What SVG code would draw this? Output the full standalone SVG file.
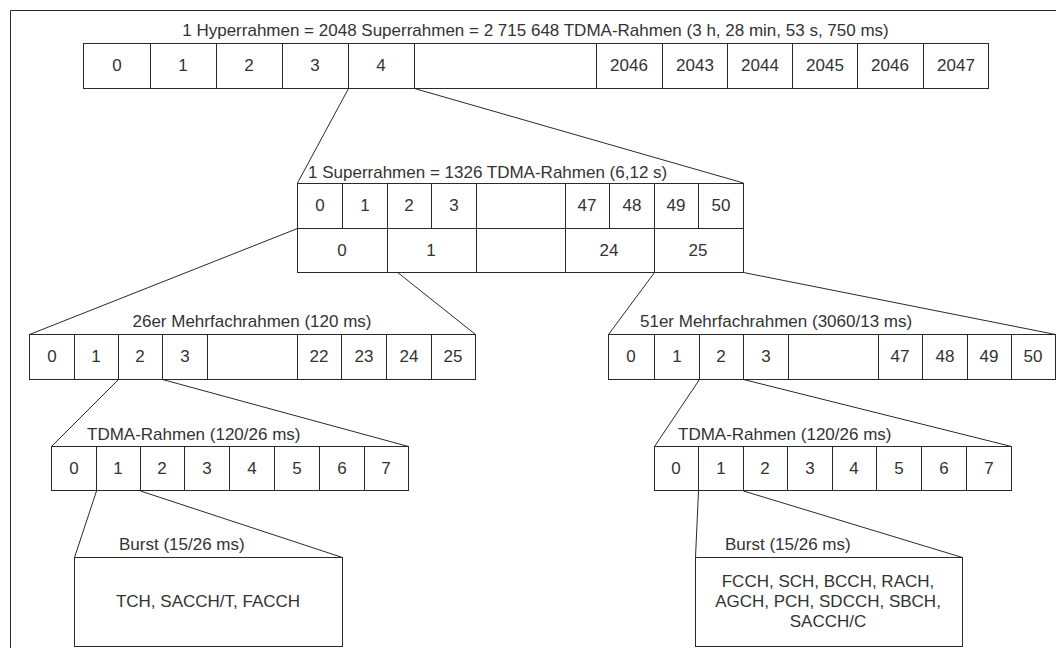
<svg xmlns="http://www.w3.org/2000/svg" width="1056" height="648" viewBox="0 0 1056 648">
<style>
.c{fill:#fff;stroke:#2a2a2a;stroke-width:1}
.l{stroke:#2a2a2a;stroke-width:1;fill:none}
text{font-family:"Liberation Sans",Arial,sans-serif;font-size:17px;fill:#333}
.m{text-anchor:middle}
</style>
<rect width="1056" height="648" fill="#fff"/>
<path class="l" d="M10.5,648 V10.5 H1056"/>
<g id="connectors">
<line class="l" x1="348.5" y1="88.5" x2="297.5" y2="183"/>
<line class="l" x1="414.5" y1="88.5" x2="743.5" y2="183"/>
<line class="l" x1="297.5" y1="228.5" x2="29.5" y2="334.5"/>
<line class="l" x1="342.5" y1="228.5" x2="475.5" y2="334.5"/>
<line class="l" x1="654.5" y1="272.5" x2="608.5" y2="334.5"/>
<line class="l" x1="743.5" y1="272.5" x2="1055.5" y2="334.5"/>
<line class="l" x1="118.5" y1="379.5" x2="51.5" y2="446.5"/>
<line class="l" x1="162.5" y1="379.5" x2="408.5" y2="446.5"/>
<line class="l" x1="699.5" y1="379.5" x2="654.5" y2="446.5"/>
<line class="l" x1="743.5" y1="379.5" x2="1011.5" y2="446.5"/>
<line class="l" x1="96.5" y1="491" x2="74.5" y2="557.5"/>
<line class="l" x1="140.5" y1="491" x2="342.5" y2="557.5"/>
<line class="l" x1="698.5" y1="491" x2="695.5" y2="557.5"/>
<line class="l" x1="743.5" y1="491" x2="962.5" y2="557.5"/>
</g>
<g id="hyperframe">
<text class="m" x="535.5" y="36">1 Hyperrahmen = 2048 Superrahmen = 2 715 648 TDMA-Rahmen (3 h, 28 min, 53 s, 750 ms)</text>
<rect class="c" x="83.5" y="43.5" width="67" height="45"/>
<rect class="c" x="150.5" y="43.5" width="66" height="45"/>
<rect class="c" x="216.5" y="43.5" width="66" height="45"/>
<rect class="c" x="282.5" y="43.5" width="66" height="45"/>
<rect class="c" x="348.5" y="43.5" width="66" height="45"/>
<rect class="c" x="414.5" y="43.5" width="182" height="45"/>
<rect class="c" x="596.5" y="43.5" width="66" height="45"/>
<rect class="c" x="662.5" y="43.5" width="65" height="45"/>
<rect class="c" x="727.5" y="43.5" width="65" height="45"/>
<rect class="c" x="792.5" y="43.5" width="65" height="45"/>
<rect class="c" x="857.5" y="43.5" width="66" height="45"/>
<rect class="c" x="923.5" y="43.5" width="65" height="45"/>
<text class="m" x="117" y="71">0</text>
<text class="m" x="183" y="71">1</text>
<text class="m" x="249" y="71">2</text>
<text class="m" x="315" y="71">3</text>
<text class="m" x="381" y="71">4</text>
<text class="m" x="629" y="71">2046</text>
<text class="m" x="695" y="71">2043</text>
<text class="m" x="760" y="71">2044</text>
<text class="m" x="825" y="71">2045</text>
<text class="m" x="890" y="71">2046</text>
<text class="m" x="956" y="71">2047</text>
</g>
<g id="superframe">
<text x="308" y="178">1 Superrahmen = 1326 TDMA-Rahmen (6,12 s)</text>
<rect class="c" x="297.5" y="183.5" width="45" height="45"/>
<rect class="c" x="342.5" y="183.5" width="45" height="45"/>
<rect class="c" x="387.5" y="183.5" width="44" height="45"/>
<rect class="c" x="431.5" y="183.5" width="45" height="45"/>
<rect class="c" x="476.5" y="183.5" width="89" height="45"/>
<rect class="c" x="565.5" y="183.5" width="44" height="45"/>
<rect class="c" x="609.5" y="183.5" width="45" height="45"/>
<rect class="c" x="654.5" y="183.5" width="44" height="45"/>
<rect class="c" x="698.5" y="183.5" width="45" height="45"/>
<rect class="c" x="297.5" y="228.5" width="90" height="44"/>
<rect class="c" x="387.5" y="228.5" width="89" height="44"/>
<rect class="c" x="476.5" y="228.5" width="89" height="44"/>
<rect class="c" x="565.5" y="228.5" width="89" height="44"/>
<rect class="c" x="654.5" y="228.5" width="89" height="44"/>
<text class="m" x="320" y="211">0</text>
<text class="m" x="365" y="211">1</text>
<text class="m" x="409" y="211">2</text>
<text class="m" x="454" y="211">3</text>
<text class="m" x="587" y="211">47</text>
<text class="m" x="632" y="211">48</text>
<text class="m" x="676" y="211">49</text>
<text class="m" x="721" y="211">50</text>
<text class="m" x="342" y="256">0</text>
<text class="m" x="431" y="256">1</text>
<text class="m" x="609" y="256">24</text>
<text class="m" x="698" y="256">25</text>
</g>
<g id="multiframe26">
<text class="m" x="252" y="327">26er Mehrfachrahmen (120 ms)</text>
<rect class="c" x="29.5" y="334.5" width="45" height="45"/>
<rect class="c" x="74.5" y="334.5" width="44" height="45"/>
<rect class="c" x="118.5" y="334.5" width="44" height="45"/>
<rect class="c" x="162.5" y="334.5" width="45" height="45"/>
<rect class="c" x="207.5" y="334.5" width="90" height="45"/>
<rect class="c" x="297.5" y="334.5" width="44" height="45"/>
<rect class="c" x="341.5" y="334.5" width="45" height="45"/>
<rect class="c" x="386.5" y="334.5" width="45" height="45"/>
<rect class="c" x="431.5" y="334.5" width="44" height="45"/>
<text class="m" x="52" y="362">0</text>
<text class="m" x="96" y="362">1</text>
<text class="m" x="140" y="362">2</text>
<text class="m" x="185" y="362">3</text>
<text class="m" x="319" y="362">22</text>
<text class="m" x="364" y="362">23</text>
<text class="m" x="409" y="362">24</text>
<text class="m" x="453" y="362">25</text>
</g>
<g id="multiframe51">
<text x="640" y="327">51er Mehrfachrahmen (3060/13 ms)</text>
<rect class="c" x="608.5" y="334.5" width="46" height="45"/>
<rect class="c" x="654.5" y="334.5" width="45" height="45"/>
<rect class="c" x="699.5" y="334.5" width="44" height="45"/>
<rect class="c" x="743.5" y="334.5" width="45" height="45"/>
<rect class="c" x="788.5" y="334.5" width="90" height="45"/>
<rect class="c" x="878.5" y="334.5" width="44" height="45"/>
<rect class="c" x="922.5" y="334.5" width="45" height="45"/>
<rect class="c" x="967.5" y="334.5" width="44" height="45"/>
<rect class="c" x="1011.5" y="334.5" width="44" height="45"/>
<text class="m" x="631" y="362">0</text>
<text class="m" x="677" y="362">1</text>
<text class="m" x="721" y="362">2</text>
<text class="m" x="766" y="362">3</text>
<text class="m" x="900" y="362">47</text>
<text class="m" x="945" y="362">48</text>
<text class="m" x="989" y="362">49</text>
<text class="m" x="1033" y="362">50</text>
</g>
<g id="tdma-left">
<text x="87" y="440">TDMA-Rahmen (120/26 ms)</text>
<rect class="c" x="51.5" y="446.5" width="45" height="44"/>
<rect class="c" x="96.5" y="446.5" width="44" height="44"/>
<rect class="c" x="140.5" y="446.5" width="44" height="44"/>
<rect class="c" x="184.5" y="446.5" width="45" height="44"/>
<rect class="c" x="229.5" y="446.5" width="45" height="44"/>
<rect class="c" x="274.5" y="446.5" width="45" height="44"/>
<rect class="c" x="319.5" y="446.5" width="45" height="44"/>
<rect class="c" x="364.5" y="446.5" width="44" height="44"/>
<text class="m" x="74" y="474">0</text>
<text class="m" x="118" y="474">1</text>
<text class="m" x="162" y="474">2</text>
<text class="m" x="207" y="474">3</text>
<text class="m" x="252" y="474">4</text>
<text class="m" x="297" y="474">5</text>
<text class="m" x="342" y="474">6</text>
<text class="m" x="386" y="474">7</text>
</g>
<g id="tdma-right">
<text x="678" y="440">TDMA-Rahmen (120/26 ms)</text>
<rect class="c" x="654.5" y="446.5" width="44" height="44"/>
<rect class="c" x="698.5" y="446.5" width="45" height="44"/>
<rect class="c" x="743.5" y="446.5" width="44" height="44"/>
<rect class="c" x="787.5" y="446.5" width="45" height="44"/>
<rect class="c" x="832.5" y="446.5" width="44" height="44"/>
<rect class="c" x="876.5" y="446.5" width="45" height="44"/>
<rect class="c" x="921.5" y="446.5" width="45" height="44"/>
<rect class="c" x="966.5" y="446.5" width="45" height="44"/>
<text class="m" x="676" y="474">0</text>
<text class="m" x="721" y="474">1</text>
<text class="m" x="765" y="474">2</text>
<text class="m" x="810" y="474">3</text>
<text class="m" x="854" y="474">4</text>
<text class="m" x="899" y="474">5</text>
<text class="m" x="944" y="474">6</text>
<text class="m" x="989" y="474">7</text>
</g>
<g id="burst-left">
<text x="119" y="550">Burst (15/26 ms)</text>
<rect class="c" x="74.5" y="557.5" width="268" height="89"/>
<text class="m" x="208" y="607">TCH, SACCH/T, FACCH</text>
</g>
<g id="burst-right">
<text x="725" y="550">Burst (15/26 ms)</text>
<rect class="c" x="695.5" y="557.5" width="267" height="89"/>
<text class="m" x="828" y="587">FCCH, SCH, BCCH, RACH,</text>
<text class="m" x="828" y="607">AGCH, PCH, SDCCH, SBCH,</text>
<text class="m" x="828" y="627">SACCH/C</text>
</g>
</svg>
